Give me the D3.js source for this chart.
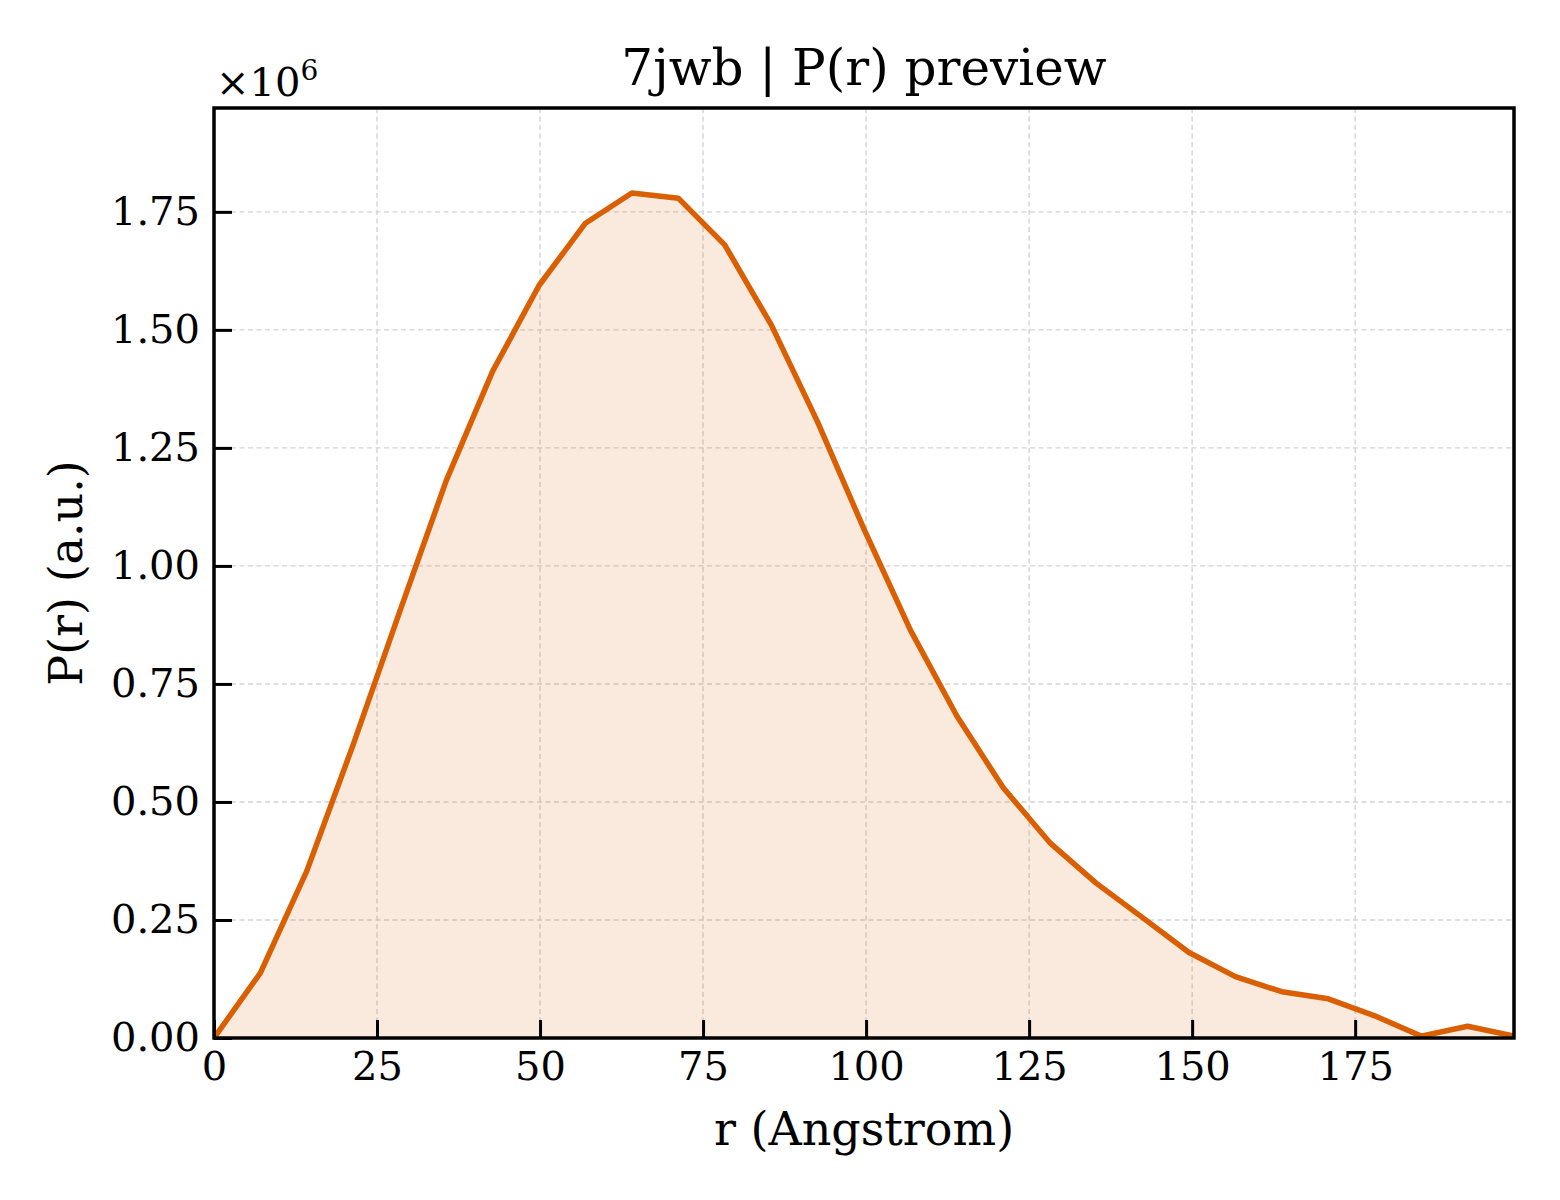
<!DOCTYPE html>
<html>
<head>
<meta charset="utf-8">
<script src="https://cdn.jsdelivr.net/npm/d3@7"></script>
<style>
  body { margin: 0; background: #fff; }
  svg { font-family: "DejaVu Serif", serif; }
</style>
</head>
<body>
<div class="canvas"></div>
<script>
// data
const rValues = [0, 7.12, 14.24, 21.36, 28.48, 35.6, 42.72, 49.84, 56.96, 64.08,
                 71.2, 78.32, 85.44, 92.56, 99.68, 106.8, 113.92, 121.04, 128.16, 135.28,
                 142.4, 149.52, 156.64, 163.76, 170.88, 178.0, 185.12, 192.24, 199.36];
const prValues = [0, 0.138, 0.354, 0.622, 0.903, 1.180, 1.412, 1.594, 1.726, 1.790,
                  1.779, 1.680, 1.511, 1.305, 1.078, 0.864, 0.682, 0.530, 0.414, 0.328,
                  0.255, 0.181, 0.130, 0.098, 0.083, 0.047, 0.004, 0.025, 0.004]; // x 1e6
const xTicks = [0, 25, 50, 75, 100, 125, 150, 175];
const yTicks = [0, 0.25, 0.5, 0.75, 1.0, 1.25, 1.5, 1.75];

const data = rValues.map((r, i) => ({ r: r, p: prValues[i] * 1e6 }));

const width = 1560, height = 1200;
const margin = { top: 108, right: 46, bottom: 162, left: 214 };
const graphWidth = width - margin.left - margin.right;
const graphHeight = height - margin.top - margin.bottom;

const svg = d3.select('.canvas')
              .append('svg')
              .attr('width', width)
              .attr('height', height);

const graph = svg.append('g')
                 .attr('transform', `translate(${margin.left}, ${margin.top})`);

// scales
const x = d3.scaleLinear().domain([0, 199.36]).range([0, graphWidth]);
const y = d3.scaleLinear().domain([0, 1.97e6]).range([graphHeight, 0]);

svg.append('defs').append('clipPath').attr('id', 'clip')
   .append('rect').attr('width', graphWidth).attr('height', graphHeight);

// grid
const grid = graph.append('g');
grid.selectAll('.vg').data(xTicks.slice(1)).enter().append('line')
    .attr('x1', d => x(d)).attr('x2', d => x(d))
    .attr('y1', 0).attr('y2', graphHeight);
grid.selectAll('.hg').data(yTicks.slice(1)).enter().append('line')
    .attr('x1', 0).attr('x2', graphWidth)
    .attr('y1', d => y(d * 1e6)).attr('y2', d => y(d * 1e6));
grid.selectAll('line')
    .attr('stroke', '#d4d4d4')
    .attr('stroke-width', 1.4)
    .attr('stroke-dasharray', '5,3.5');

// area + line
const plot = graph.append('g').attr('clip-path', 'url(#clip)');
plot.append('path')
    .datum(data)
    .attr('fill', '#d95f02')
    .attr('fill-opacity', 0.13)
    .attr('d', d3.area().x(d => x(d.r)).y0(y(0)).y1(d => y(d.p)));
plot.append('path')
    .datum(data)
    .attr('fill', 'none')
    .attr('stroke', '#d95f02')
    .attr('stroke-width', 5.5)
    .attr('stroke-linejoin', 'round')
    .attr('d', d3.line().x(d => x(d.r)).y(d => y(d.p)));

// axes, ticks inward
const xAxis = d3.axisBottom(x).tickValues(xTicks).tickSizeInner(-18).tickSizeOuter(0).tickPadding(32)
                .tickFormat(d3.format('d'));
const yAxis = d3.axisLeft(y).tickValues(yTicks.map(d => d * 1e6)).tickSizeInner(-18).tickSizeOuter(0).tickPadding(32)
                .tickFormat(d => d3.format('.2f')(d / 1e6));

const xAxisGroup = graph.append('g').attr('transform', `translate(0, ${graphHeight})`).call(xAxis);
const yAxisGroup = graph.append('g').call(yAxis);
[xAxisGroup, yAxisGroup].forEach(g => {
  g.select('.domain').remove();
  g.selectAll('.tick line').attr('stroke', '#000').attr('stroke-width', 3);
  g.selectAll('text').attr('fill', '#000').style('font-size', '40px')
   .style('font-family', '"DejaVu Serif", serif');
});
xAxisGroup.selectAll('text').attr('dy', '0.71em').attr('y', 14);
yAxisGroup.selectAll('text').attr('x', -14);

// frame
graph.append('rect')
     .attr('width', graphWidth).attr('height', graphHeight)
     .attr('fill', 'none').attr('stroke', '#000').attr('stroke-width', 3.5);

// labels
svg.append('text')
   .attr('x', margin.left + graphWidth / 2).attr('y', 85)
   .attr('text-anchor', 'middle').style('font-size', '50px')
   .text('7jwb | P(r) preview');

svg.append('text')
   .attr('x', margin.left + graphWidth / 2).attr('y', 1145)
   .attr('text-anchor', 'middle').style('font-size', '46px')
   .text('r (Angstrom)');

svg.append('text')
   .attr('transform', `translate(82, ${margin.top + graphHeight / 2}) rotate(-90)`)
   .attr('text-anchor', 'middle').style('font-size', '46px')
   .text('P(r) (a.u.)');

const mult = svg.append('text')
   .attr('x', margin.left + 2).attr('y', 96)
   .style('font-size', '40px');
mult.append('tspan').text('\u00d710');
mult.append('tspan').attr('dy', -16).style('font-size', '28px').text('6');
</script>
</body>
</html>
